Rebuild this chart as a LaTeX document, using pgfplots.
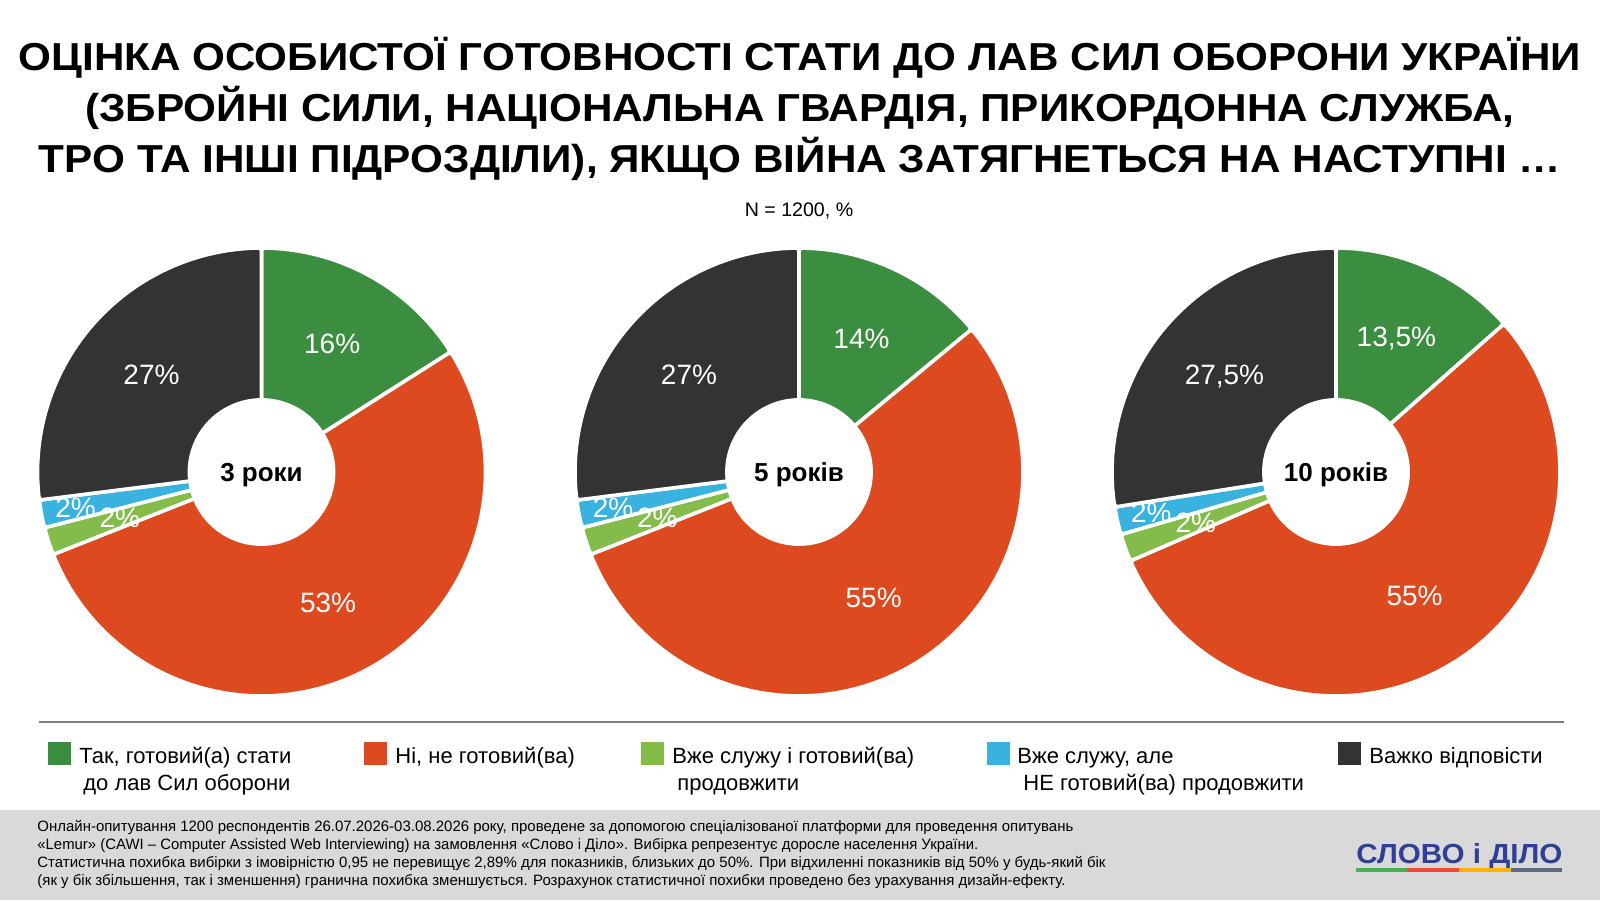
\documentclass[border=0pt]{standalone}
\usepackage{fontspec}
\setmainfont{Liberation Sans}
\usepackage{graphicx}
\usepackage{pgfplots}
\pgfplotsset{compat=1.18}

\definecolor{cGreen}{HTML}{3B8E3F}
\definecolor{cRed}{HTML}{DE4A1F}
\definecolor{cLight}{HTML}{83BC4B}
\definecolor{cBlue}{HTML}{39B2DF}
\definecolor{cDark}{HTML}{333333}
\definecolor{bandgray}{HTML}{D9D9D9}
\definecolor{sepgray}{HTML}{7F7F7F}
\definecolor{logoblue}{HTML}{2F3F98}
\definecolor{lgA}{HTML}{4CAF50}
\definecolor{lgB}{HTML}{F0483A}
\definecolor{lgC}{HTML}{FFB300}
\definecolor{lgD}{HTML}{5E6A80}

\pgfkeys{/pgf/number format/.cd,use comma,assume math mode=true}
\pgfplotsset{slice/.style={draw=white,line width=1.8pt,line join=round,samples=100,rounded corners=1.5pt}}

% #1 centre x (px), #2..#6 values, #7 centre label
\newcommand\donut[7]{%
  \pgfmathsetmacro\aA{90}%
  \pgfmathsetmacro\aB{\aA-3.6*#2}%
  \pgfmathsetmacro\aC{\aB-3.6*#3}%
  \pgfmathsetmacro\aD{\aC-3.6*#4}%
  \pgfmathsetmacro\aE{\aD-3.6*#5}%
  \pgfmathsetmacro\aF{\aE-3.6*#6}%
  \pgfmathsetmacro\mA{(\aA+\aB)/2}%
  \pgfmathsetmacro\mB{(\aB+\aC)/2}%
  \pgfmathsetmacro\mC{(\aC+\aD)/2}%
  \pgfmathsetmacro\mD{(\aD+\aE)/2}%
  \pgfmathsetmacro\mE{(\aE+\aF)/2}%
  \pgfmathsetmacro\cx{#1*0.5}%
  \begin{axis}[at={(\cx pt,214pt)},anchor=center,x=112pt,y=112pt,
      xmin=-1.1,xmax=1.1,ymin=-1.1,ymax=1.1,hide axis,clip=false]
    \addplot[slice,fill=cGreen,domain=\aB:\aA] ({cos(x)},{sin(x)}) -- (0,0) -- cycle;
    \addplot[slice,fill=cRed,domain=\aC:\aB] ({cos(x)},{sin(x)}) -- (0,0) -- cycle;
    \addplot[slice,fill=cLight,domain=\aD:\aC] ({cos(x)},{sin(x)}) -- (0,0) -- cycle;
    \addplot[slice,fill=cBlue,domain=\aE:\aD] ({cos(x)},{sin(x)}) -- (0,0) -- cycle;
    \addplot[slice,fill=cDark,domain=\aF:\aE] ({cos(x)},{sin(x)}) -- (0,0) -- cycle;
    \addplot[fill=white,draw=none,domain=0:360,samples=120] ({0.33*cos(x)},{0.33*sin(x)}) -- cycle;
    \node[lab] at ({0.655*cos(\mA)},{0.655*sin(\mA)}) {\pgfmathprintnumber{#2}\%};
    \node[lab] at ({0.655*cos(\mB)},{0.655*sin(\mB)}) {\pgfmathprintnumber{#3}\%};
    \node[lab] at ({0.665*cos(\mC)},{0.665*sin(\mC)}) {\pgfmathprintnumber{#4}\%};
    \node[lab] at ({0.845*cos(\mD)},{0.845*sin(\mD)}) {\pgfmathprintnumber{#5}\%};
    \node[lab] at ({0.655*cos(\mE)},{0.655*sin(\mE)}) {\pgfmathprintnumber{#6}\%};
    \node[anchor=base,inner sep=0,font=\fontsize{13}{13}\selectfont\bfseries] at (0,-0.0424) {#7};
  \end{axis}}

\newcommand\fitw[2]{\resizebox{#1}{\height}{#2}}

\begin{document}
\begin{tikzpicture}[x=0.5pt,y=0.5pt,
  lab/.style={text=white,inner sep=0,font=\fontsize{14}{14}\selectfont},
  leg/.style={anchor=base west,inner sep=0,font=\fontsize{11}{13}\selectfont},
  foot/.style={anchor=base west,inner sep=0,font=\fontsize{7.5}{9}\selectfont}]
\path[use as bounding box,fill=white] (0,0) rectangle (1600,900);

% title
\node[anchor=base,inner sep=0,font=\fontsize{19.5}{22}\selectfont\bfseries] at (800,829.5)
  {\fitw{781pt}{ОЦІНКА ОСОБИСТОЇ ГОТОВНОСТІ СТАТИ ДО ЛАВ СИЛ ОБОРОНИ УКРАЇНИ}};
\node[anchor=base,inner sep=0,font=\fontsize{19.5}{22}\selectfont\bfseries] at (800,778.5)
  {\fitw{714.5pt}{(ЗБРОЙНІ СИЛИ, НАЦІОНАЛЬНА ГВАРДІЯ, ПРИКОРДОННА СЛУЖБА,}};
\node[anchor=base,inner sep=0,font=\fontsize{19.5}{22}\selectfont\bfseries] at (800,727.5)
  {\fitw{761pt}{ТРО ТА ІНШІ ПІДРОЗДІЛИ), ЯКЩО ВІЙНА ЗАТЯГНЕТЬСЯ НА НАСТУПНІ …}};
\node[anchor=base,inner sep=0,font=\fontsize{9.8}{11}\selectfont] at (799,683) {N = 1200, \%};

% donuts
\donut{261.5}{16}{53}{2}{2}{27}{3 роки}
\donut{799}{14}{55}{2}{2}{27}{5 років}
\donut{1336}{13.5}{55}{2}{2}{27.5}{10 років}

% legend
\draw[sepgray,line width=1pt] (39,178) -- (1564,178);
\fill[cGreen] (48,135) rectangle (71,158);
\fill[cRed]   (364,135) rectangle (387,158);
\fill[cLight] (641,135) rectangle (664,158);
\fill[cBlue]  (987,135) rectangle (1010,158);
\fill[cDark]  (1338,135) rectangle (1361,158);
\node[leg] at (79,137) {Так, готовий(а) стати};
\node[leg] at (83,110) {до лав Сил оборони};
\node[leg] at (395,137) {Ні, не готовий(ва)};
\node[leg] at (672,137) {Вже служу і готовий(ва)};
\node[leg] at (677,110) {продовжити};
\node[leg] at (1017,137) {Вже служу, але};
\node[leg] at (1023,110) {НЕ готовий(ва) продовжити};
\node[leg] at (1369,137) {Важко відповісти};

% footer
\fill[bandgray] (0,0) rectangle (1600,90);
\node[foot] at (37,69) {\fitw{518pt}{Онлайн-опитування 1200 респондентів 26.07.2026-03.08.2026 року, проведене за допомогою спеціалізованої платформи для проведення опитувань}};
\node[foot] at (37,51) {\fitw{470.5pt}{«Lemur» (CAWI – Computer Assisted Web Interviewing) на замовлення «Слово і Діло». Вибірка репрезентує доросле населення України.}};
\node[foot] at (37,33) {\fitw{534pt}{Статистична похибка вибірки з імовірністю 0,95 не перевищує 2,89\% для показників, близьких до 50\%. При відхиленні показників від 50\% у будь-який бік}};
\node[foot] at (37,15) {\fitw{514pt}{(як у бік збільшення, так і зменшення) гранична похибка зменшується. Розрахунок статистичної похибки проведено без урахування дизайн-ефекту.}};

% logo
\node[anchor=base west,inner sep=0,text=logoblue,font=\fontsize{16}{16}\selectfont\bfseries] at (1356,37)
  {\resizebox{103pt}{10pt}{СЛОВО і ДІЛО}};
\fill[lgA] (1356,28) rectangle (1407,32);
\fill[lgB] (1407,28) rectangle (1459,32);
\fill[lgC] (1459,28) rectangle (1511,32);
\fill[lgD] (1511,28) rectangle (1562,32);
\end{tikzpicture}
\end{document}
